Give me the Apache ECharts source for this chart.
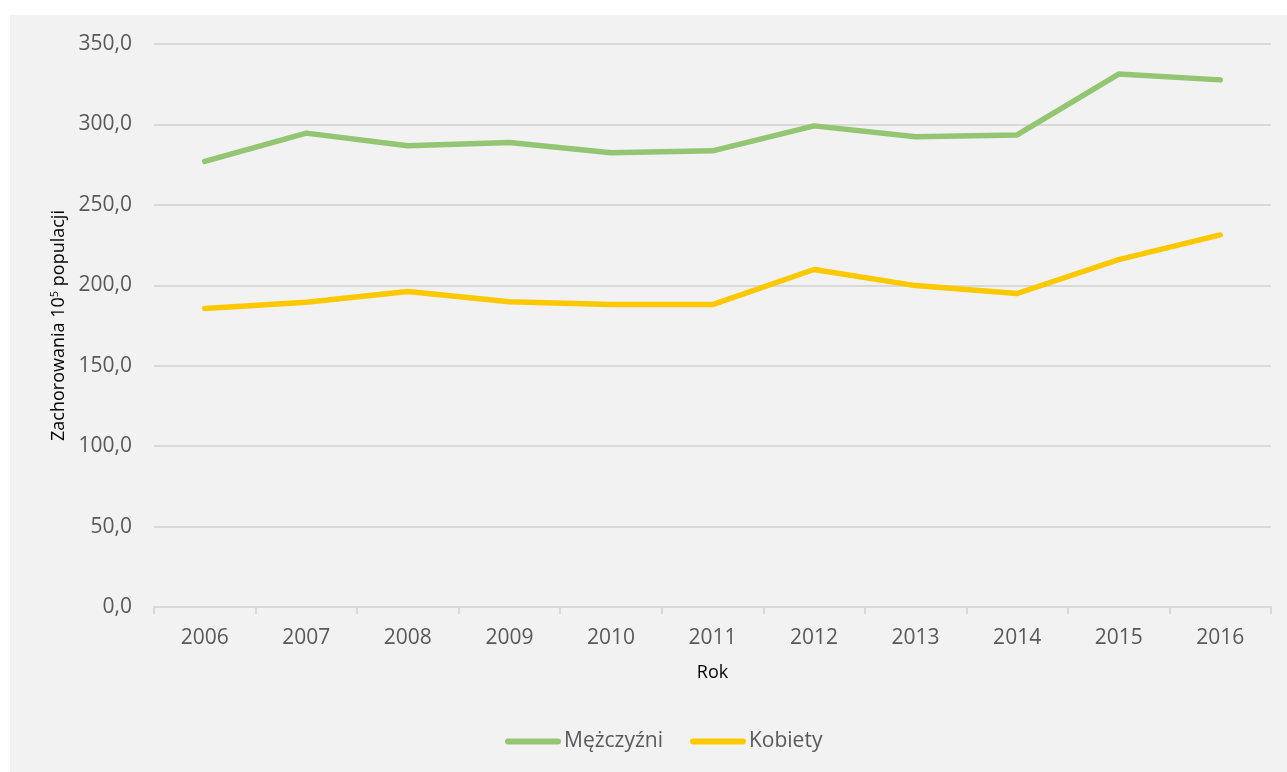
<!DOCTYPE html>
<html>
<head>
<meta charset="utf-8">
<script src="https://cdn.jsdelivr.net/npm/echarts@6/dist/echarts.min.js"></script>
<style>
html,body{margin:0;padding:0;background:#ffffff;}
#chart{position:absolute;left:10px;top:15px;width:1277px;height:757px;}
</style>
</head>
<body>
<div id="chart"></div>
<script>
const categories = ['2006','2007','2008','2009','2010','2011','2012','2013','2014','2015','2016'];
const menValues = [277.0, 294.6, 286.7, 288.7, 282.4, 283.6, 299.1, 292.3, 293.5, 331.3, 327.7];
const womenValues = [185.5, 189.5, 196.1, 189.7, 188.0, 188.0, 209.8, 199.8, 194.9, 216.0, 231.3];
const seriesNames = ['Mężczyźni', 'Kobiety'];
const xAxisTitle = 'Rok';

const chart = echarts.init(document.getElementById('chart'));
const font = '"Open Sans", "Noto Sans", sans-serif';
const linePath = 'path://M3,0 L53,0 A3,3 0 0 1 53,6 L3,6 A3,3 0 0 1 3,0 Z';
chart.setOption({
  backgroundColor: '#f2f2f2',
  animation: false,
  grid: { left: 144, right: 16, top: 29, bottom: 165 },
  legend: {
    bottom: 15,
    left: 490,
    itemWidth: 56,
    itemHeight: 6,
    itemGap: 27,
    textStyle: { color: '#595959', fontSize: 21, fontFamily: font, padding: [0,0,0,-2] },
    data: [
      { name: seriesNames[0], icon: linePath },
      { name: seriesNames[1], icon: linePath }
    ]
  },
  xAxis: {
    type: 'category',
    data: categories,
    boundaryGap: true,
    name: xAxisTitle,
    nameLocation: 'middle',
    nameGap: 57,
    nameTextStyle: { color: '#000000', fontSize: 18, fontFamily: font, verticalAlign: 'top' },
    axisLine: { lineStyle: { color: '#d9d9d9', width: 2 } },
    axisTick: { show: true, alignWithLabel: false, length: 7, lineStyle: { color: '#d9d9d9', width: 2 } },
    axisLabel: { color: '#595959', fontSize: 21, fontFamily: font, margin: 21 },
    splitLine: { show: false }
  },
  yAxis: {
    type: 'value',
    min: 0,
    max: 350,
    interval: 50,
    name: '{a|Zachorowania 10}{s|5}{a| populacji}',
    nameLocation: 'middle',
    nameGap: 86,
    nameRotate: 90,
    nameTextStyle: {
      rich: {
        a: { color: '#000000', fontSize: 18, fontFamily: font },
        s: { color: '#000000', fontSize: 11, fontFamily: font, verticalAlign: 'top', padding: [0,0,8,0] }
      }
    },
    axisLine: { show: false },
    axisTick: { show: false },
    axisLabel: {
      color: '#595959', fontSize: 21, fontFamily: font, margin: 22,
      formatter: v => v.toFixed(1).replace('.', ',')
    },
    splitLine: { lineStyle: { color: '#d9d9d9', width: 2 } }
  },
  series: [
    {
      name: seriesNames[0],
      type: 'line',
      data: menValues,
      symbol: 'none',
      itemStyle: { color: '#93c572' },
      lineStyle: { color: '#93c572', width: 5.5, cap: 'round', join: 'round' }
    },
    {
      name: seriesNames[1],
      type: 'line',
      data: womenValues,
      symbol: 'none',
      itemStyle: { color: '#ffc800' },
      lineStyle: { color: '#ffc800', width: 5.5, cap: 'round', join: 'round' }
    }
  ]
});
</script>
</body>
</html>
